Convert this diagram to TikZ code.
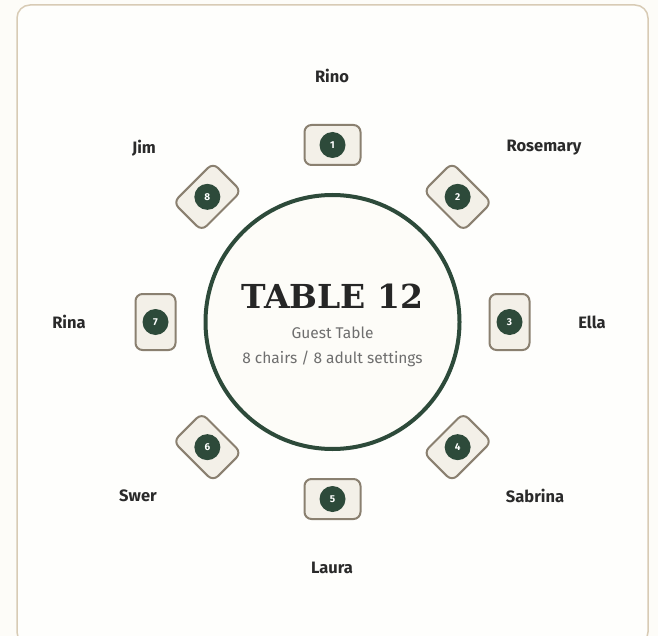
\documentclass[tikz,border=0pt]{standalone}
\usepackage{fontspec}
\setmainfont{Fira Sans}
\newfontfamily\titlefont{DejaVu Serif}
\usetikzlibrary{positioning}
\definecolor{bgc}{HTML}{FDFCF8}
\definecolor{framec}{HTML}{D8CBB5}
\definecolor{tgreen}{HTML}{2D4A3A}
\definecolor{chairfill}{HTML}{F3F0E8}
\definecolor{chairdraw}{HTML}{8A8070}
\definecolor{namec}{HTML}{2A2A2A}
\definecolor{subc}{HTML}{6E6E6E}
\tikzset{
  chairbox/.style={draw=chairdraw, line width=2pt, fill=chairfill, rounded corners=7pt,
    minimum width=56pt, minimum height=40pt, inner sep=0pt},
  seatnum/.style={circle, fill=tgreen, minimum size=26pt, inner sep=0pt,
    text=white, font=\fontsize{10}{11}\selectfont\bfseries},
  guest/.style={text=namec, font=\fontsize{16.5}{18}\selectfont\bfseries},
  subtext/.style={text=subc, font=\fontsize{15.5}{17}\selectfont},
}
\begin{document}
\begin{tikzpicture}[x=1pt,y=-1pt]
\useasboundingbox (0,0) rectangle (658,636);
\fill[bgc] (0,0) rectangle (658,636);
\begin{scope}
\clip (0,0) rectangle (658,636);
\draw[framec, line width=1.5pt, fill=white!60!bgc, rounded corners=13pt] (17,5) rectangle (648,645);
\end{scope}
\node[circle, draw=tgreen, line width=4pt, fill=bgc, minimum size=254pt] (table) at (332.5,322) {};
\node[text=black!85, font=\titlefont\fontsize{33}{36}\selectfont\bfseries] (title) at (332.5,296) {TABLE 12};
\node[subtext] (sub) at (332.5,333) {Guest Table};
\node[subtext] (info) at (332.5,359) {8 chairs / 8 adult settings};
% chairs
\foreach \i/\ang in {1/90,2/45,3/0,4/-45,5/-90,6/-135,7/180,8/135}{
  \pgfmathsetmacro{\cx}{332.5+177*cos(\ang)}
  \pgfmathsetmacro{\cy}{322-177*sin(\ang)}
  \node[chairbox, rotate=\ang-90] (c\i) at (\cx,\cy) {};
  \node[seatnum] (n\i) at (c\i.center) {\i};
}
% names
\node[guest] (g1) at (332,76) {Rino};
\node[guest] (g2) at (544,148) {Rosemary};
\node[guest] (g3) at (592,322) {Ella};
\node[guest] (g4) at (535,496) {Sabrina};
\node[guest] (g5) at (332,568) {Laura};
\node[guest] (g6) at (138,496) {Swer};
\node[guest] (g7) at (69,322) {Rina};
\node[guest] (g8) at (144,148) {Jim};
\end{tikzpicture}
\end{document}
